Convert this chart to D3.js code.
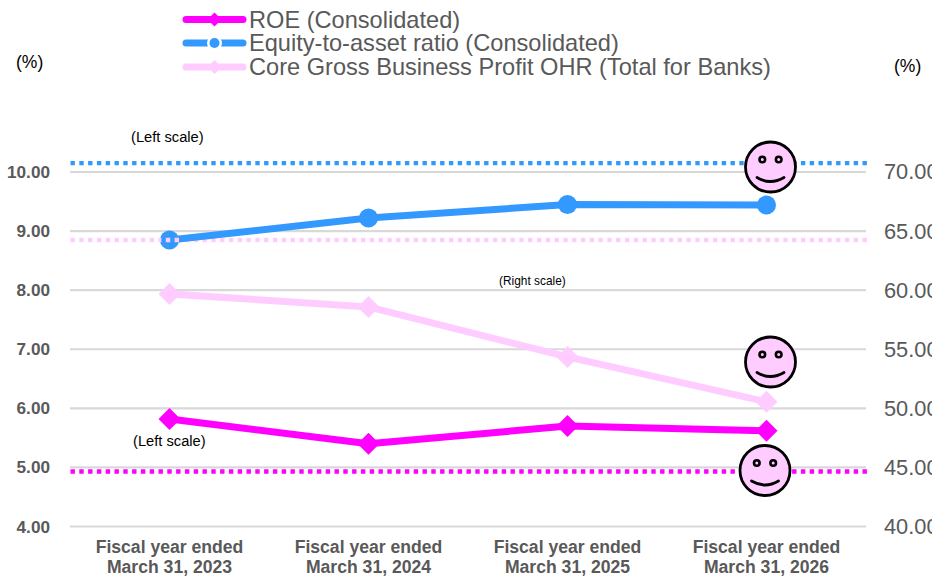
<!DOCTYPE html>
<html>
<head>
<meta charset="utf-8">
<script src="https://cdn.jsdelivr.net/npm/d3@7/dist/d3.min.js"></script>
<style>
html,body{margin:0;padding:0;background:#fff;overflow:hidden}
svg{display:block;font-family:"Liberation Sans",Arial,sans-serif}
</style>
</head>
<body>
<div id="chart"></div>
<script>
const categories = ["March 31, 2023", "March 31, 2024", "March 31, 2025", "March 31, 2026"];
const roe = [5.82, 5.40, 5.70, 5.62];
const equityRatio = [8.85, 9.22, 9.45, 9.44];
const coreOhr = [59.68, 58.58, 54.35, 50.55];
const leftTicks = [4, 5, 6, 7, 8, 9, 10];
const rightTicks = [40, 45, 50, 55, 60, 65, 70];
const roeTarget = 4.93;
const equityTarget = 10.15;
const ohrTarget = 64.25;
const seriesNames = ["ROE (Consolidated)", "Equity-to-asset ratio (Consolidated)", "Core Gross Business Profit OHR (Total for Banks)"];
const magenta = "#ff00ff", blue = "#3399ff", pink = "#ffccff", grey = "#595959", grid = "#d9d9d9";

const svg = d3.select("#chart").append("svg").attr("width", 932).attr("height", 576);

const x = d3.scaleBand().domain(categories).range([70, 866]);
const cx = c => x(c) + x.bandwidth() / 2;
const yL = d3.scaleLinear().domain([4, 10]).range([526.5, 172]);
const yR = d3.scaleLinear().domain([40, 70]).range([526.5, 172]);

// Horizontal gridlines
svg.append("g").selectAll("line").data(leftTicks).join("line")
  .attr("x1", 70).attr("x2", 866)
  .attr("y1", d => yL(d)).attr("y2", d => yL(d))
  .attr("stroke", grid).attr("stroke-width", 2.2);

// Left axis labels
const leftAxis = d3.axisLeft(yL).tickValues(leftTicks).tickFormat(d3.format(".2f")).tickSize(0).tickPadding(0);
const gl = svg.append("g").attr("transform", "translate(50,0)").call(leftAxis);
gl.select(".domain").remove();
gl.selectAll("text").attr("fill", grey).attr("font-size", 17.2).attr("font-weight", 700)
  .attr("font-family", "'Liberation Sans',Arial,sans-serif");

// Right axis labels, clipped by the page edge
const rightAxis = d3.axisRight(yR).tickValues(rightTicks).tickFormat(d3.format(".2f")).tickSize(0).tickPadding(0);
const gr = svg.append("g").attr("transform", "translate(884,0)").call(rightAxis);
gr.select(".domain").remove();
gr.selectAll("text").attr("fill", grey).attr("font-size", 21.8)
  .attr("font-family", "'Liberation Sans',Arial,sans-serif");

// Category labels
const gc = svg.append("g").attr("fill", grey).attr("font-size", 17.6).attr("font-weight", 700).attr("text-anchor", "middle");
gc.selectAll("text.a").data(categories).join("text").attr("class", "a")
  .attr("x", cx).attr("y", 552.5).text("Fiscal year ended");
gc.selectAll("text.b").data(categories).join("text").attr("class", "b")
  .attr("x", cx).attr("y", 572.5).text(d => d);

// Dotted target lines
const targets = [
  { y: yL(equityTarget), color: blue },
  { y: yR(ohrTarget), color: pink },
  { y: yL(roeTarget), color: magenta }
];
svg.append("g").selectAll("line").data(targets).join("line")
  .attr("x1", 70.5).attr("x2", 869)
  .attr("y1", d => d.y).attr("y2", d => d.y)
  .attr("stroke", d => d.color).attr("stroke-width", 4.4)
  .attr("stroke-dasharray", "4.4 4.4");

// Series lines
const series = [
  { values: coreOhr, y: yR, color: pink, shape: "diamond" },
  { values: roe, y: yL, color: magenta, shape: "diamond" },
  { values: equityRatio, y: yL, color: blue, shape: "circle" }
];
const diamond = (cxp, cyp, r) => `M${cxp},${cyp - r}L${cxp + r},${cyp}L${cxp},${cyp + r}L${cxp - r},${cyp}Z`;
series.forEach(s => {
  const pts = categories.map((c, i) => [cx(c), s.y(s.values[i])]);
  svg.append("path").attr("d", d3.line()(pts)).attr("fill", "none")
    .attr("stroke", s.color).attr("stroke-width", 7).attr("stroke-linejoin", "round");
  if (s.shape === "circle") {
    svg.append("g").selectAll("circle").data(pts).join("circle")
      .attr("cx", d => d[0]).attr("cy", d => d[1]).attr("r", 9.5).attr("fill", s.color);
  } else {
    svg.append("g").selectAll("path").data(pts).join("path")
      .attr("d", d => diamond(d[0], d[1], 11)).attr("fill", s.color);
  }
});

// The pink target dots stay visible across the first equity marker
svg.append("line").attr("x1", 160).attr("x2", 180)
  .attr("y1", yR(ohrTarget)).attr("y2", yR(ohrTarget))
  .attr("stroke", pink).attr("stroke-width", 4.4).attr("stroke-dasharray", "4.4 4.4")
  .attr("stroke-dashoffset", 3);

// Legend
const legend = svg.append("g");
const legendRows = [
  { y: 19.5, color: magenta, shape: "diamond" },
  { y: 43, color: blue, shape: "circle" },
  { y: 67, color: pink, shape: "diamond" }
];
legendRows.forEach((r, i) => {
  legend.append("line").attr("x1", 186).attr("x2", 243).attr("y1", r.y).attr("y2", r.y)
    .attr("stroke", r.color).attr("stroke-width", 7).attr("stroke-linecap", "round");
  if (r.shape === "circle") {
    legend.append("circle").attr("cx", 214.5).attr("cy", r.y).attr("r", 7.5).attr("fill", "#fff");
    legend.append("circle").attr("cx", 214.5).attr("cy", r.y).attr("r", 5).attr("fill", r.color);
  } else {
    legend.append("path").attr("d", diamond(214.5, r.y, 7)).attr("fill", r.color);
  }
  legend.append("text").attr("x", 249).attr("y", r.y + 8)
    .attr("fill", grey).attr("font-size", 23.6).text(seriesNames[i]);
});

// Unit labels and scale annotations
const notes = [
  { t: "(%)", x: 16, y: 68, s: 17.5 },
  { t: "(%)", x: 894, y: 72, s: 17.5 },
  { t: "(Left scale)", x: 131, y: 142, s: 14.7 },
  { t: "(Left scale)", x: 133, y: 446, s: 14.7 },
  { t: "(Right scale)", x: 499, y: 285, s: 11.9 }
];
svg.append("g").selectAll("text").data(notes).join("text")
  .attr("x", d => d.x).attr("y", d => d.y).attr("font-size", d => d.s)
  .attr("fill", "#000").text(d => d.t);

// Smiley badges
const faces = [[770.5, 167], [770.5, 362], [765, 470.5]];
const face = svg.append("g").selectAll("g").data(faces).join("g")
  .attr("transform", d => `translate(${d[0]},${d[1]})`);
face.append("circle").attr("r", 25).attr("fill", pink).attr("stroke", "#000").attr("stroke-width", 2.8);
face.selectAll("circle.eye").data([-8.2, 8.2]).join("circle").attr("class", "eye")
  .attr("cx", d => d).attr("cy", -7.5).attr("r", 2.8).attr("fill", "none")
  .attr("stroke", "#000").attr("stroke-width", 2.6);
face.append("path").attr("d", "M-13.5,10.5Q0,18.5 13.5,10.5").attr("fill", "none")
  .attr("stroke", "#000").attr("stroke-width", 2.8).attr("stroke-linecap", "round");
</script>
</body>
</html>
